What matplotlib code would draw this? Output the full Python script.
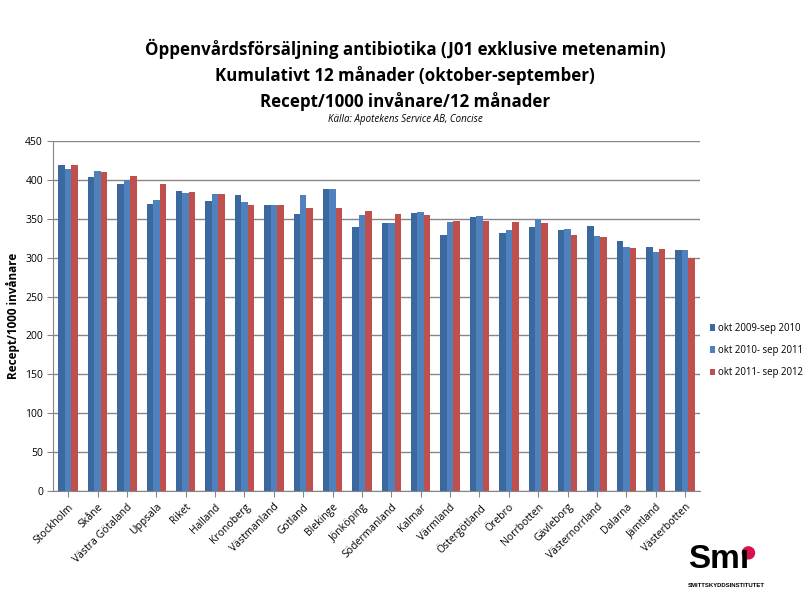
import matplotlib
matplotlib.use("Agg")
import matplotlib.pyplot as plt
import numpy as np

regions = ["Stockholm", "Skåne", "Västra Götaland", "Uppsala", "Riket", "Halland",
           "Kronoberg", "Västmanland", "Gotland", "Blekinge", "Jönköping",
           "Södermanland", "Kalmar", "Värmland", "Östergötland", "Örebro",
           "Norrbotten", "Gävleborg", "Västernorrland", "Dalarna", "Jämtland",
           "Västerbotten"]
s2010 = [419, 404, 395, 369, 386, 373, 380, 367, 356, 388, 339, 344, 357, 329,
         352, 332, 339, 335, 340, 321, 314, 310]
s2011 = [414, 411, 399, 374, 383, 381, 372, 367, 380, 388, 355, 345, 359, 346,
         353, 336, 349, 337, 328, 313, 307, 310]
s2012 = [419, 410, 405, 394, 384, 382, 368, 367, 364, 364, 360, 356, 355, 347,
         347, 346, 345, 329, 326, 312, 311, 300]
series_labels = ["okt 2009-sep 2010", "okt 2010- sep 2011", "okt 2011- sep 2012"]
colors = ["#3C68A0", "#4F81BD", "#C0504D"]
yticks = list(range(0, 451, 50))

plt.rcParams['font.family'] = ['Open Sans', 'DejaVu Sans']
fig = plt.figure(figsize=(8.1, 5.99), dpi=100)
ax = fig.add_axes([0.066, 0.180, 0.798, 0.585])

x = np.arange(len(regions))
w = 0.22
for i, (vals, lab, c) in enumerate(zip([s2010, s2011, s2012], series_labels, colors)):
    ax.bar(x + (i - 1) * w, vals, width=w, color=c, label=lab, zorder=3)

ax.set_xlim(-0.5, len(regions) - 0.5)
ax.set_ylim(0, 450)
ax.set_yticks(yticks)
ax.yaxis.grid(True, color="#868686", linewidth=1, zorder=0)
ax.set_axisbelow(True)
for s in ["top", "right"]:
    ax.spines[s].set_visible(False)
for s in ["left", "bottom"]:
    ax.spines[s].set_color("#868686")
ax.tick_params(axis="y", labelsize=7.5, length=4, color="#868686")
ax.tick_params(axis="x", length=4, color="#868686")
ax.set_xticks(x)
ax.set_xticklabels(regions, rotation=45, ha="right", rotation_mode="anchor", fontsize=7.5)
ax.set_ylabel("Recept/1000 invånare", fontsize=8.5, fontweight="bold")

leg = fig.legend(loc="center left", bbox_to_anchor=(0.876, 0.415), frameon=False,
                 fontsize=6.9, handlelength=0.6, handleheight=0.6, labelspacing=1.15,
                 handletextpad=0.25, borderpad=0, borderaxespad=0)

fig.text(0.5, 0.918, "Öppenvårdsförsäljning antibiotika (J01 exklusive metenamin)",
         ha="center", va="center", fontsize=12.2, fontweight="bold")
fig.text(0.5, 0.874, "Kumulativt 12 månader (oktober-september)",
         ha="center", va="center", fontsize=12.2, fontweight="bold")
fig.text(0.5, 0.830, "Recept/1000 invånare/12 månader",
         ha="center", va="center", fontsize=12.2, fontweight="bold")
fig.text(0.5, 0.800, "Källa: Apotekens Service AB, Concise",
         ha="center", va="center", fontsize=7, style="italic")

# logo
fig.text(0.850, 0.040, "Smı", ha="left", va="bottom", fontsize=24, fontweight="bold",
         family="Liberation Sans")
fig.patches.append(matplotlib.patches.Ellipse((0.924, 0.077), 0.015, 0.020,
                                              transform=fig.transFigure, color="#D6134F"))
fig.text(0.849, 0.018, "SMITTSKYDDSINSTITUTET", ha="left", va="bottom", fontsize=4.3,
         fontweight="bold", family="Liberation Sans")

fig.savefig("out.png", dpi=100)
